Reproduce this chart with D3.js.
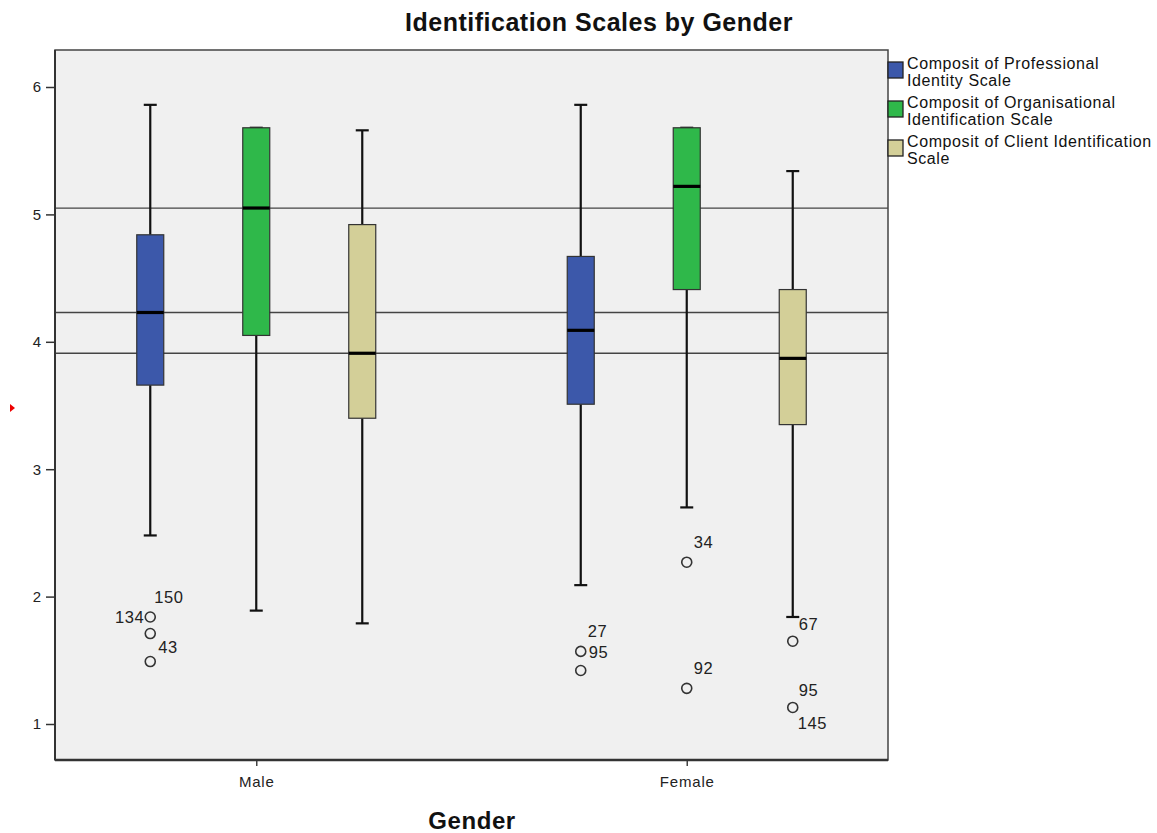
<!DOCTYPE html>
<html>
<head>
<meta charset="utf-8">
<script src="https://cdn.jsdelivr.net/npm/d3@7"></script>
<style>
  body { margin: 0; background: #fff; }
  text { font-family: "Liberation Sans", Arial, sans-serif; }
</style>
</head>
<body>
<div id="chart"></div>
<script>
// data
var genders = ["Male", "Female"];
var scales = ["Composit of Professional Identity Scale",
              "Composit of Organisational Identification Scale",
              "Composit of Client Identification Scale"];
var legendLines = [["Composit of Professional", "Identity Scale"],
                   ["Composit of Organisational", "Identification Scale"],
                   ["Composit of Client Identification", "Scale"]];
var colors = ["#3c58aa", "#2fb84a", "#d3cf98"];

// [whiskerLow, q1, median, q3, whiskerHigh] per gender, per scale
var maleStats = [
  [2.48, 3.66, 4.23, 4.84, 5.86],
  [1.89, 4.05, 5.05, 5.68, 5.68],
  [1.79, 3.40, 3.91, 4.92, 5.66]
];
var femaleStats = [
  [2.09, 3.51, 4.09, 4.67, 5.86],
  [2.70, 4.41, 5.22, 5.68, 5.68],
  [1.84, 3.35, 3.87, 4.41, 5.34]
];
// outliers: gender, scale index, value, case label
var outGender = ["Male", "Male", "Male", "Female", "Female", "Female", "Female", "Female", "Female"];
var outScale  = [0, 0, 0, 0, 0, 1, 1, 2, 2];
var outValue  = [1.84, 1.71, 1.49, 1.57, 1.42, 2.27, 1.28, 1.65, 1.13];
var outLabels = [["150", "134"], ["43"], [], ["27", "95"], [], ["34"], ["92"], ["67"], ["95", "145"]];

var refLines = [5.05, 4.23, 3.91];
var yTicks = [1, 2, 3, 4, 5, 6];

var W = 1157, H = 833;
var margin = {left: 55, right: 269, top: 50, bottom: 73};

var svg = d3.select("#chart").append("svg")
  .attr("width", W).attr("height", H);

var x0 = d3.scalePoint().domain(genders)
  .range([margin.left, W - margin.right]).padding(0.4675);
var x1 = d3.scaleBand().domain(d3.range(scales.length)).range([-159, 159]);
var y = d3.scaleLinear().domain([1, 6]).range([724, 87]);

var plotB = H - margin.bottom;

// plot background
svg.append("rect")
  .attr("x", margin.left).attr("y", margin.top)
  .attr("width", W - margin.right - margin.left)
  .attr("height", plotB - margin.top)
  .attr("fill", "#f0f0f0").attr("stroke", "#444").attr("stroke-width", 1.5);

// reference lines
svg.selectAll(".ref").data(refLines).enter().append("line")
  .attr("x1", margin.left).attr("x2", W - margin.right)
  .attr("y1", function(d) { return y(d); }).attr("y2", function(d) { return y(d); })
  .attr("stroke", "#444").attr("stroke-width", 1.3);

// axes
var yAxis = d3.axisLeft(y).tickValues(yTicks).tickSize(9).tickPadding(5)
  .tickFormat(d3.format("d"));
var gy = svg.append("g").attr("transform", "translate(" + margin.left + ",0)").call(yAxis);
gy.select(".domain").remove();
gy.selectAll("line").attr("stroke", "#333").attr("stroke-width", 1.5);
gy.selectAll("text").attr("font-size", 15).attr("fill", "#222");

var xAxis = d3.axisBottom(x0).tickSize(6).tickPadding(10);
var gx = svg.append("g").attr("transform", "translate(0," + plotB + ")").call(xAxis);
gx.select(".domain").remove();
gx.selectAll("line").attr("stroke", "#444").attr("stroke-width", 1.5);
gx.selectAll("text").attr("font-size", 15).attr("letter-spacing", 0.8).attr("fill", "#222");

// thicker axis lines
svg.append("line").attr("x1", margin.left).attr("x2", margin.left)
  .attr("y1", margin.top).attr("y2", plotB).attr("stroke", "#333").attr("stroke-width", 2);
svg.append("line").attr("x1", margin.left).attr("x2", W - margin.right)
  .attr("y1", plotB).attr("y2", plotB).attr("stroke", "#333").attr("stroke-width", 2.5);

// boxes
var boxW = 27, capW = 13;
var boxes = [];
genders.forEach(function(g, gi) {
  var st = gi == 0 ? maleStats : femaleStats;
  st.forEach(function(s, si) {
    boxes.push({g: g, s: si, v: s});
  });
});
function cx(d) { return x0(d.g) + x1(d.s) + x1.bandwidth() / 2; }

var bg = svg.selectAll(".box").data(boxes).enter().append("g");
// whiskers
bg.append("line")
  .attr("x1", cx).attr("x2", cx)
  .attr("y1", function(d) { return y(d.v[0]); }).attr("y2", function(d) { return y(d.v[1]); })
  .attr("stroke", "#111").attr("stroke-width", 2.2);
bg.append("line")
  .attr("x1", cx).attr("x2", cx)
  .attr("y1", function(d) { return y(d.v[3]); }).attr("y2", function(d) { return y(d.v[4]); })
  .attr("stroke", "#111").attr("stroke-width", 2.2);
[0, 4].forEach(function(k) {
  bg.append("line")
    .attr("x1", function(d) { return cx(d) - capW / 2; })
    .attr("x2", function(d) { return cx(d) + capW / 2; })
    .attr("y1", function(d) { return y(d.v[k]); }).attr("y2", function(d) { return y(d.v[k]); })
    .attr("stroke", "#111").attr("stroke-width", 2.2);
});
bg.append("rect")
  .attr("x", function(d) { return cx(d) - boxW / 2; })
  .attr("y", function(d) { return y(d.v[3]); })
  .attr("width", boxW)
  .attr("height", function(d) { return y(d.v[1]) - y(d.v[3]); })
  .attr("fill", function(d) { return colors[d.s]; })
  .attr("stroke", "#333").attr("stroke-width", 1.2);
bg.append("line")
  .attr("x1", function(d) { return cx(d) - boxW / 2; })
  .attr("x2", function(d) { return cx(d) + boxW / 2; })
  .attr("y1", function(d) { return y(d.v[2]); }).attr("y2", function(d) { return y(d.v[2]); })
  .attr("stroke", "#000").attr("stroke-width", 3.2);

// outliers
var outs = outValue.map(function(v, i) {
  return {g: outGender[i], s: outScale[i], v: v, labels: outLabels[i]};
});
svg.selectAll(".out").data(outs).enter().append("circle")
  .attr("cx", cx).attr("cy", function(d) { return y(d.v); })
  .attr("r", 5).attr("fill", "none").attr("stroke", "#333").attr("stroke-width", 1.6);

// label placement: first label above-right, second label right or left
var lab = [];
outs.forEach(function(d) {
  d.labels.forEach(function(t, k) {
    var dx = 7, dy = -14, anchor = "start";
    if (d.g == "Male" && k == 0) { dx = 4; }
    if (d.labels.length == 2 && k == 1) {
      if (d.g == "Male") { dx = -6; dy = 6; anchor = "end"; }
      else if (d.s == 2) { dx = 5; dy = 22; }
      else { dx = 8; dy = 7; }
    }
    if (d.g == "Male" && d.labels.length == 1) { dx = 8; dy = 19; }
    if (d.s == 2 && d.g == "Female" && k == 0) { dx = 6; dy = -11; }
    lab.push({x: cx(d) + dx, y: y(d.v) + dy, t: t, a: anchor});
  });
});
svg.selectAll(".olab").data(lab).enter().append("text")
  .attr("x", function(d) { return d.x; }).attr("y", function(d) { return d.y; })
  .attr("text-anchor", function(d) { return d.a; })
  .attr("font-size", 16.5).attr("letter-spacing", 0.6).attr("fill", "#222")
  .text(function(d) { return d.t; });

// legend
var lg = svg.append("g").attr("transform", "translate(" + (W - margin.right) + ",60)");
legendLines.forEach(function(lines, i) {
  lg.append("rect").attr("x", 0).attr("y", i * 39 + 2).attr("width", 15).attr("height", 16)
    .attr("fill", colors[i]).attr("stroke", "#222").attr("stroke-width", 1.3);
  lines.forEach(function(t, j) {
    lg.append("text").attr("x", 19).attr("y", i * 39 + 9 + j * 17)
      .attr("font-size", 16).attr("letter-spacing", 0.6).attr("fill", "#111").text(t);
  });
});

// titles
svg.append("text").attr("x", 599).attr("y", 31).attr("text-anchor", "middle")
  .attr("font-size", 25).attr("letter-spacing", 0.5).attr("font-weight", "bold").attr("fill", "#111")
  .text("Identification Scales by Gender");
svg.append("text").attr("x", 472).attr("y", 829).attr("text-anchor", "middle")
  .attr("font-size", 24).attr("letter-spacing", 0.6).attr("font-weight", "bold").attr("fill", "#111")
  .text("Gender");

// small red marker at left edge
svg.append("path").attr("d", "M10,404 L15,408 L10,412 Z").attr("fill", "#e00");
</script>
</body>
</html>
